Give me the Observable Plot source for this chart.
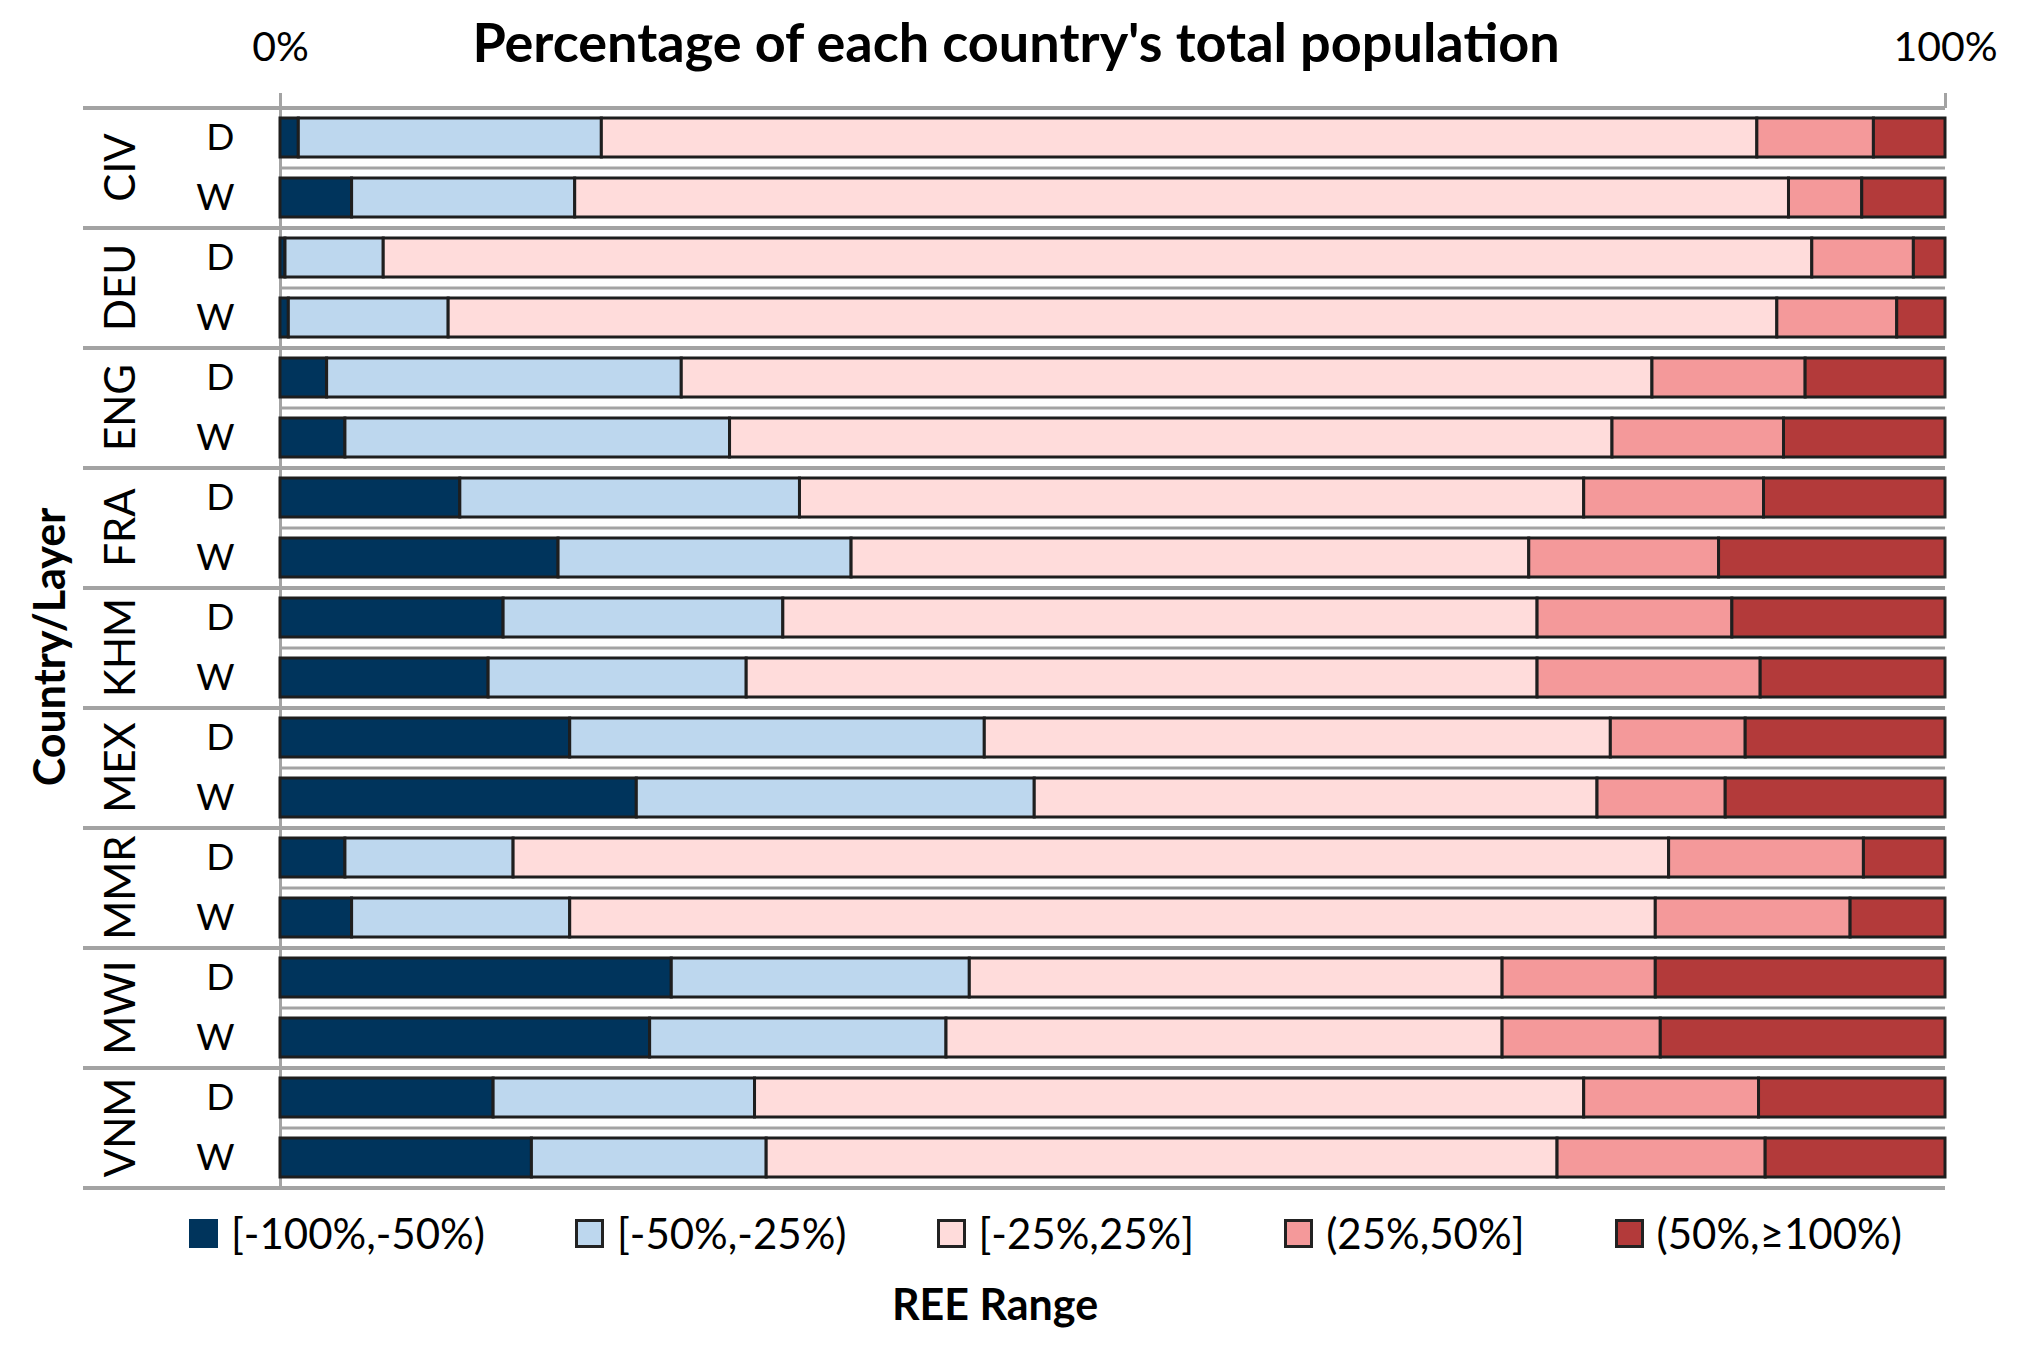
<!DOCTYPE html>
<html>
<head>
<meta charset="utf-8">
<script src="https://cdn.jsdelivr.net/npm/d3@7"></script>
<script src="https://cdn.jsdelivr.net/npm/@observablehq/plot@0.6"></script>
<style>
  body { margin: 0; background: #fff; font-family: Lato, sans-serif; color: #000; }
  #wrap { position: relative; width: 2017px; height: 1351px; overflow: hidden; background: #fff; }
  #chart { position: absolute; left: 0; top: 0; }
  #title { position: absolute; left: 0; width: 2032px; top: 10px; text-align: center; font-weight: bold; font-size: 54px; line-height: 1.2; white-space: nowrap; }
  #ylabel { position: absolute; left: 49px; top: 647px; transform: translate(-50%, -50%) rotate(-90deg); font-weight: bold; font-size: 43px; line-height: 1.2; white-space: nowrap; }
  #legend { position: absolute; left: 189px; top: 1208px; display: flex; gap: 90px; font-size: 42px; line-height: 1.2; white-space: nowrap; }
  .item { display: flex; align-items: center; gap: 13px; }
  .sw { width: 23px; height: 23px; border: 3px solid #222; }
  #xlabel { position: absolute; left: 0; width: 1990px; top: 1278px; text-align: center; font-weight: bold; font-size: 43px; line-height: 1.2; white-space: nowrap; }
</style>
</head>
<body>
<div id="wrap">
  <div id="chart"></div>
  <div id="title"></div>
  <div id="ylabel"></div>
  <div id="legend"></div>
  <div id="xlabel"></div>
</div>
<script>
// ---- data ----
const countries = ["CIV", "DEU", "ENG", "FRA", "KHM", "MEX", "MMR", "MWI", "VNM"];
const layers = ["D", "W"];
const categories = ["[-100%,-50%)", "[-50%,-25%)", "[-25%,25%]", "(25%,50%]", "(50%,≥100%)"];
const colors = ["#00345c", "#bdd7ee", "#ffdcdb", "#f4999a", "#b33a3a"];
const xTicks = [0, 100];
const titleText = "Percentage of each country's total population";
const yTitle = "Country/Layer";
const xTitle = "REE Range";

// values (% of population), rows ordered CIV D, CIV W, DEU D, DEU W, ...
const range1 = [1.1, 4.3, 0.3, 0.5, 2.8, 3.9, 10.8, 16.7, 13.4, 12.5, 17.4, 21.4, 3.9, 4.3, 23.5, 22.2, 12.8, 15.1];
const range2 = [18.2, 13.4, 5.9, 9.6, 21.3, 23.1, 20.4, 17.6, 16.8, 15.5, 24.9, 23.9, 10.1, 13.1, 17.9, 17.8, 15.7, 14.1];
const range3 = [69.4, 72.9, 85.8, 79.8, 58.3, 53.0, 47.1, 40.7, 45.3, 47.5, 37.6, 33.8, 69.4, 65.2, 32.0, 33.4, 49.8, 47.5];
const range4 = [7.0, 4.4, 6.1, 7.2, 9.2, 10.3, 10.8, 11.4, 11.7, 13.4, 8.1, 7.7, 11.7, 11.7, 9.2, 9.5, 10.5, 12.5];
const range5 = [4.3, 5.0, 1.9, 2.9, 8.4, 9.7, 10.9, 13.6, 12.8, 11.1, 12.0, 13.2, 4.9, 5.7, 17.4, 17.1, 11.2, 10.8];
const ranges = [range1, range2, range3, range4, range5];

const data = [];
range1.forEach((_, i) => {
  const country = countries[Math.floor(i / 2)];
  const layer = layers[i % 2];
  ranges.forEach((r, k) => data.push({country, layer, cat: categories[k], value: r[i]}));
});

const gray = "#a3a3a3";
const chart = Plot.plot({
  width: 2017,
  height: 1195,
  marginTop: 107,
  marginBottom: 8,
  marginLeft: 280,
  marginRight: 72,
  style: {fontFamily: "Lato, sans-serif", background: "white", overflow: "visible", color: "#000"},
  x: {domain: [0, 100], axis: null},
  y: {domain: layers, paddingInner: 0.35, paddingOuter: 0.175, axis: null},
  fy: {domain: countries, padding: 0, axis: null},
  color: {domain: categories, range: colors},
  marks: [
    Plot.ruleY(countries, {fy: d => d, y: () => "D", dy: -30, stroke: gray, strokeWidth: 4, insetLeft: -197}),
    Plot.ruleY(countries, {fy: d => d, y: () => "W", dy: -30, stroke: gray, strokeWidth: 3}),
    Plot.ruleY(countries.slice(-1), {fy: d => d, y: () => "W", dy: 30, stroke: gray, strokeWidth: 4, insetLeft: -197}),
    Plot.ruleX([0], {stroke: gray, strokeWidth: 3}),
    Plot.barX(data, {x: "value", y: "layer", fy: "country", fill: "cat", stroke: "#1e1e1e", strokeWidth: 3}),
    Plot.axisX({anchor: "top", ticks: xTicks, tickFormat: d => d + "%", tickSize: 15, tickPadding: 32, fontSize: 41, stroke: gray, strokeWidth: 3, label: null}),
    Plot.axisFy({anchor: "left", tickSize: 0, tickRotate: -90, tickPadding: 146, fontSize: 42, label: null}),
    Plot.axisY({anchor: "left", tickSize: 0, tickPadding: 46, fontSize: 37, label: null})
  ]
});
document.getElementById("chart").appendChild(chart);

document.getElementById("title").textContent = titleText;
document.getElementById("ylabel").textContent = yTitle;
document.getElementById("xlabel").textContent = xTitle;

const legend = document.getElementById("legend");
categories.forEach((c, k) => {
  const item = document.createElement("div");
  item.className = "item";
  const sw = document.createElement("div");
  sw.className = "sw";
  sw.style.background = colors[k];
  if (k === 0) sw.style.borderColor = colors[k];
  const t = document.createElement("span");
  t.textContent = c;
  item.appendChild(sw);
  item.appendChild(t);
  legend.appendChild(item);
});
</script>
</body>
</html>
